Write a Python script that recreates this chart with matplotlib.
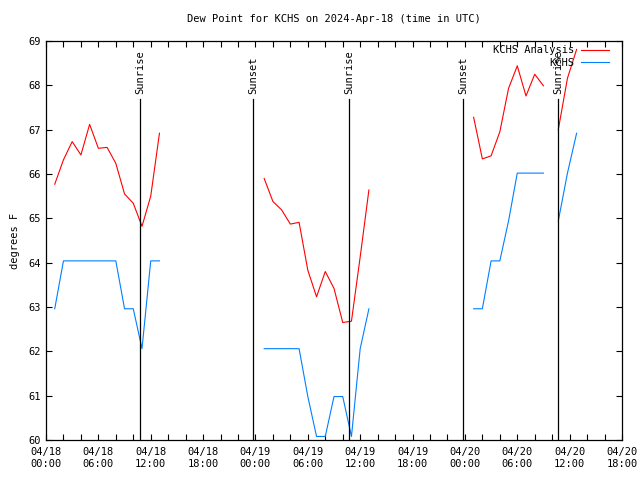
#!/usr/bin/env python3
import numpy as np
import matplotlib
matplotlib.use("Agg")
import matplotlib.pyplot as plt

nan = np.nan

# hours since 2024-04-18 00:00 UTC
hours = list(range(1, 14)) + [nan] + list(range(25, 38)) + [nan] + list(range(49, 58)) + [nan] + [58.7, 59.75, 60.8]

analysis = [65.77, 66.32, 66.73, 66.43, 67.12, 66.58, 66.60, 66.24, 65.55, 65.34, 64.82, 65.50, 66.92,
            nan,
            65.90, 65.38, 65.19, 64.87, 64.91, 63.83, 63.23, 63.80, 63.42, 62.65, 62.68, 64.13, 65.64,
            nan,
            67.28, 66.34, 66.41, 66.95, 67.93, 68.44, 67.76, 68.25, 67.99,
            nan,
            67.00, 68.16, 68.81]

obs = [62.96, 64.04, 64.04, 64.04, 64.04, 64.04, 64.04, 64.04, 62.96, 62.96, 62.06, 64.04, 64.04,
       nan,
       62.06, 62.06, 62.06, 62.06, 62.06, 60.98, 60.08, 60.08, 60.98, 60.98, 60.08, 62.06, 62.96,
       nan,
       62.96, 62.96, 64.04, 64.04, 64.94, 66.02, 66.02, 66.02, 66.02,
       nan,
       64.94, 66.02, 66.92]

sun_times = [10.78, 23.77, 34.77, 47.82, 58.72]
sun_labels = ["Sunrise", "Sunset", "Sunrise", "Sunset", "Sunrise"]

xtick_pos = list(range(0, 67, 6))
xtick_labels = ["04/18\n00:00", "04/18\n06:00", "04/18\n12:00", "04/18\n18:00",
                "04/19\n00:00", "04/19\n06:00", "04/19\n12:00", "04/19\n18:00",
                "04/20\n00:00", "04/20\n06:00", "04/20\n12:00", "04/20\n18:00"]

plt.rcParams["font.family"] = ["DejaVu Sans Mono"]
plt.rcParams["font.size"] = 7

fig = plt.figure(figsize=(6.4, 4.8), dpi=100)
ax = fig.add_axes([46/640, 40/480, 576/640, 399/480])

ax.plot(hours, analysis, color="#ff0000", lw=0.8, label="KCHS Analysis")
ax.plot(hours, obs, color="#0080ff", lw=0.8, label="KCHS")

for t, lab in zip(sun_times, sun_labels):
    ax.axvline(t, ymin=0, ymax=0.855, color="black", lw=0.9)
    ax.text(t, 0.868, lab, transform=ax.get_xaxis_transform(), rotation=90,
            ha="center", va="bottom", fontsize=7.5)

ax.set_xlim(0, 66)
ax.set_ylim(60, 69)
ax.set_xticks(xtick_pos)
ax.set_xticklabels(xtick_labels)
ax.set_xticks(range(0, 67, 2), minor=True)
ax.set_yticks(range(60, 70))
ax.tick_params(which="both", direction="in", top=True, right=True, length=4, width=0.8,
               labelsize=7.5)
ax.tick_params(axis="x", pad=5)
for s in ax.spines.values():
    s.set_linewidth(0.9)

ax.set_ylabel("degrees F", fontsize=7.5, labelpad=6)
ax.set_title("Dew Point for KCHS on 2024-Apr-18 (time in UTC)", fontsize=7.5, pad=14)

ax.legend(loc="upper right", bbox_to_anchor=(1 - 7/576, 1.005), frameon=False,
          markerfirst=False, fontsize=7.5, handlelength=2.7, borderaxespad=0.2,
          labelspacing=0.25, handletextpad=0.6)

fig.savefig("out.png", dpi=100)
